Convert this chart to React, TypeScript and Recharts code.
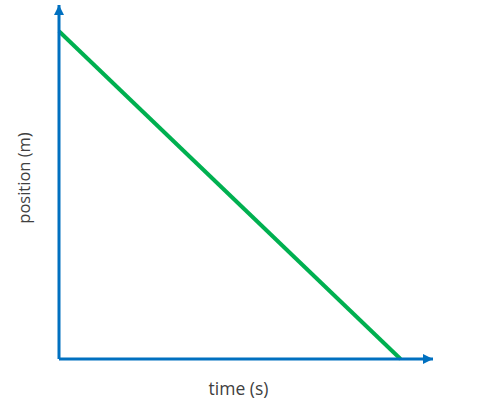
import { LineChart, Line, XAxis, YAxis } from 'recharts';

// time (s) vs position (m): uniform motion back toward the origin
const times = [0, 10];
const positions = [10, 0];

const timeDomain = [0, 10.95];
const positionDomain = [0, 10.8];

const data = times.map((t, i) => ({ time: t, position: positions[i] }));

const AXIS_BLUE = '#0070C0';
const LINE_GREEN = '#00B050';
const TEXT_GREY = '#404040';
const FONT = '"Open Sans", sans-serif';

const renderTimeLabel = (props: any) => {
  const { x, y, width } = props.viewBox;
  return (
    <text
      x={x + width / 2 - 7.5}
      y={y + 36}
      textAnchor="middle"
      fill={TEXT_GREY}
      fontFamily={FONT}
      fontSize={17.5}
    >
      time (s)
    </text>
  );
};

const renderPositionLabel = (props: any) => {
  const { y, height } = props.viewBox;
  const cx = 30;
  const cy = y + height / 2 - 4;
  return (
    <text
      x={cx}
      y={cy}
      transform={`rotate(-90, ${cx}, ${cy})`}
      textAnchor="middle"
      fill={TEXT_GREY}
      fontFamily={FONT}
      fontSize={16.5}
    >
      position (m)
    </text>
  );
};

export default function App() {
  return (
    <div style={{ position: 'absolute', left: 0, top: 0 }}>
      <LineChart
        width={496}
        height={402}
        data={data}
        margin={{ top: 5, right: 63, left: 0, bottom: 0 }}
      >
        <defs>
          <marker
            id="axisArrow"
            viewBox="0 0 10 10"
            refX={10}
            refY={5}
            markerWidth={10}
            markerHeight={10}
            markerUnits="userSpaceOnUse"
            orient="auto-start-reverse"
          >
            <path d="M0,0 L10,5 L0,10 z" fill={AXIS_BLUE} />
          </marker>
        </defs>
        <XAxis
          type="number"
          dataKey="time"
          domain={timeDomain}
          height={43}
          tick={false}
          tickLine={false}
          axisLine={{ stroke: AXIS_BLUE, strokeWidth: 3, markerEnd: 'url(#axisArrow)' }}
          label={{ content: renderTimeLabel }}
        />
        <YAxis
          type="number"
          domain={positionDomain}
          width={59}
          tick={false}
          tickLine={false}
          axisLine={{ stroke: AXIS_BLUE, strokeWidth: 3, markerStart: 'url(#axisArrow)' }}
          label={{ content: renderPositionLabel }}
        />
        <Line
          type="linear"
          dataKey="position"
          stroke={LINE_GREEN}
          strokeWidth={4}
          dot={false}
          isAnimationActive={false}
        />
      </LineChart>
    </div>
  );
}
